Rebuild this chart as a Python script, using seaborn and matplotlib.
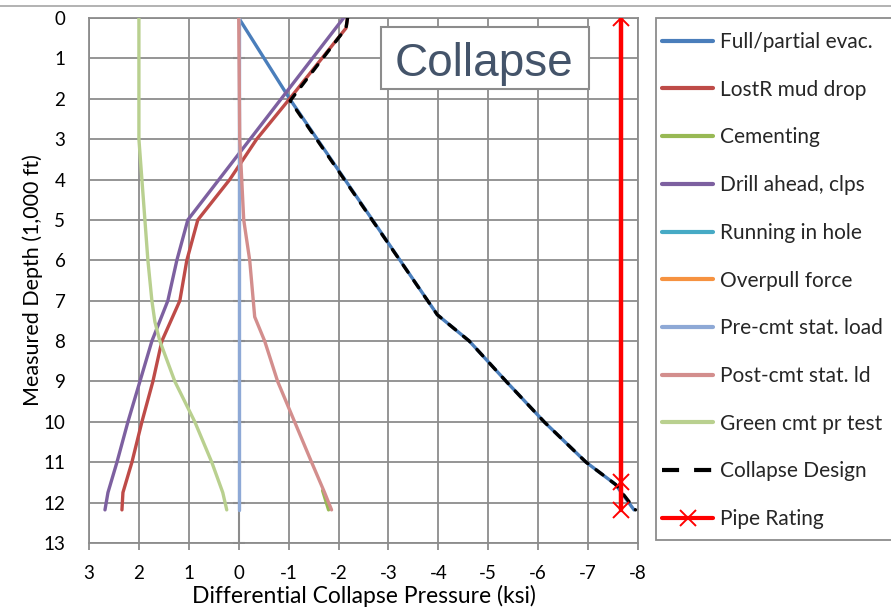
import matplotlib
matplotlib.use("Agg")
import matplotlib.pyplot as plt
from matplotlib.lines import Line2D
from matplotlib.patches import Rectangle
import seaborn as sns
import pandas as pd

# Depth in thousands of feet, pressure in ksi (positive = burst side)
full_evac_depth = [0.0, 2.0, 7.35, 8.0, 9.0, 10.0, 11.0, 11.55, 12.18]
full_evac_p = [0.0, -1.02, -3.98, -4.62, -5.36, -6.12, -6.96, -7.55, -7.92]

lost_mud_depth = [0.0, 0.25, 2.0, 3.0, 4.0, 5.0, 6.0, 7.0, 8.0, 9.0, 10.0, 11.0, 11.75, 12.18]
lost_mud_p = [-2.18, -2.15, -1.02, -0.36, 0.18, 0.82, 1.04, 1.18, 1.54, 1.72, 1.94, 2.14, 2.32, 2.34]

cementing_depth = [11.7, 12.18]
cementing_p = [-1.68, -1.8]

drill_ahead_depth = [0.0, 5.0, 6.0, 7.0, 8.0, 9.0, 10.0, 11.0, 11.75, 12.18]
drill_ahead_p = [-2.1, 1.02, 1.24, 1.42, 1.74, 1.98, 2.22, 2.44, 2.62, 2.68]

running_depth = []
running_p = []

overpull_depth = []
overpull_p = []

pre_cmt_depth = [0.0, 12.18]
pre_cmt_p = [0.0, 0.0]

post_cmt_depth = [0.0, 3.0, 5.0, 6.0, 7.4, 8.0, 9.0, 10.0, 11.0, 11.75, 12.18]
post_cmt_p = [0.0, -0.02, -0.1, -0.22, -0.32, -0.52, -0.78, -1.12, -1.46, -1.72, -1.86]

green_cmt_depth = [0.0, 3.0, 6.0, 7.0, 7.52, 8.0, 9.0, 10.0, 11.0, 11.75, 12.18]
green_cmt_p = [2.0, 2.0, 1.82, 1.74, 1.68, 1.58, 1.28, 0.88, 0.54, 0.32, 0.24]

design_depth = [0.0, 0.25, 2.05, 7.35, 8.0, 9.0, 10.0, 11.0, 11.55, 12.18]
design_p = [-2.18, -2.15, -1.03, -3.98, -4.62, -5.36, -6.12, -6.96, -7.55, -7.95]

rating_depth = [0.0, 11.5, 12.18]
rating_p = [-7.65, -7.65, -7.65]

x_ticks = [3, 2, 1, 0, -1, -2, -3, -4, -5, -6, -7, -8]
y_ticks = list(range(0, 14))

series = [
    ("Full/partial evac.", full_evac_p, full_evac_depth, "#4A7EBB", "-", None),
    ("LostR mud drop", lost_mud_p, lost_mud_depth, "#BE4B48", "-", None),
    ("Cementing", cementing_p, cementing_depth, "#98B954", "-", None),
    ("Drill ahead, clps", drill_ahead_p, drill_ahead_depth, "#7D60A0", "-", None),
    ("Running in hole", running_p, running_depth, "#46AAC5", "-", None),
    ("Overpull force", overpull_p, overpull_depth, "#F69240", "-", None),
    ("Pre-cmt stat. load", pre_cmt_p, pre_cmt_depth, "#8EA9D6", "-", None),
    ("Post-cmt stat. ld", post_cmt_p, post_cmt_depth, "#D38E8D", "-", None),
    ("Green cmt pr test", green_cmt_p, green_cmt_depth, "#B9D08F", "-", None),
    ("Collapse Design", design_p, design_depth, "black", "--", None),
    ("Pipe Rating", rating_p, rating_depth, "#FF0000", "-", "x"),
]

sns.set_theme(style="white")
plt.rcParams["font.family"] = ["Lato", "DejaVu Sans"]

GRID = "#8C8C8C"
W, H = 891, 610


def fx(px):
    return px / W


def fy(py):
    return 1 - py / H


fig = plt.figure(figsize=(W / 100, H / 100), dpi=100)
ax = fig.add_axes([fx(89), fy(543), 549 / W, 525 / H])

# vertical axis line crossing at zero pressure, with its cross ticks
ax.plot([0, 0], [0, 13], color=GRID, lw=1.5, zorder=1)
ax.plot([0] * len(y_ticks), y_ticks, ls="none", marker="_", ms=9, mew=1.5,
        color=GRID, zorder=1)

handles = []
for i, (name, p, d, color, ls, mk) in enumerate(series):
    lw = 3.2 if name == "Pipe Rating" else 2.4
    df = pd.DataFrame({"p": p, "depth": d})
    if len(df):
        sns.lineplot(data=df, x="p", y="depth", sort=False, estimator=None,
                     ax=ax, color=color, lw=lw, zorder=3 + i,
                     marker=mk if mk else None,
                     markersize=12, markeredgewidth=1.4,
                     markeredgecolor=color, legend=False)
        if ls == "--":
            ln = ax.lines[-1]
            ln.set_dashes((2.6, 3.05))
            ln.set_dash_capstyle("round")
    h = Line2D([], [], color=color, lw=3.0, marker=mk,
               markersize=11, markeredgewidth=1.4, solid_capstyle="round")
    if ls == "--":
        h.set_dashes((4.1, 3.6))
    handles.append(h)

ax.set_xlim(3, -8)
ax.set_ylim(13, 0)
ax.set_xticks(x_ticks)
ax.set_xticklabels([str(t) for t in x_ticks])
ax.set_yticks(y_ticks)
ax.set_yticklabels([str(t) for t in y_ticks])
ax.grid(True, color=GRID, lw=1.3)
ax.set_axisbelow(True)
for s in ax.spines.values():
    s.set_color(GRID)
    s.set_linewidth(1.3)
ax.tick_params(axis="x", bottom=True, length=5, width=1.3, color=GRID,
               labelsize=13.5, pad=11, labelcolor="black")
ax.tick_params(axis="y", left=False, labelsize=13.5, pad=11, labelcolor="black")

ax.set_xlabel("Differential Collapse Pressure (ksi)", fontsize=16.5,
              labelpad=2, color="black")
ax.set_ylabel("Measured Depth (1,000 ft)", fontsize=15.5, labelpad=0,
              color="black")

# "Collapse" caption box
fig.add_artist(Rectangle((fx(381), fy(89)), (589 - 381) / W, (89 - 27) / H,
                         transform=fig.transFigure, fc="white", ec=GRID,
                         lw=1.5, zorder=20))
fig.text(fx(484), fy(76), "Collapse", ha="center", va="baseline",
         fontsize=33, color="#44546A", family="Liberation Sans", zorder=21)

# legend frame (runs off the right edge)
fig.add_artist(Rectangle((fx(656), fy(540)), (W + 20 - 656) / W, (540 - 18) / H,
                         transform=fig.transFigure, fc="white", ec=GRID,
                         lw=1.3, zorder=0, clip_on=False))
fig.legend(handles, [s[0] for s in series], loc="upper left",
           bbox_to_anchor=(fx(662), fy(32)), borderaxespad=0, borderpad=0,
           frameon=False, fontsize=15, handlelength=2.45, handletextpad=0.34,
           labelspacing=1.33)

# chart-area top border
fig.add_artist(Line2D([0, 1], [fy(6), fy(6)], transform=fig.transFigure,
                      color="#A6A6A6", lw=1.2))

fig.savefig("out.png", dpi=100)
